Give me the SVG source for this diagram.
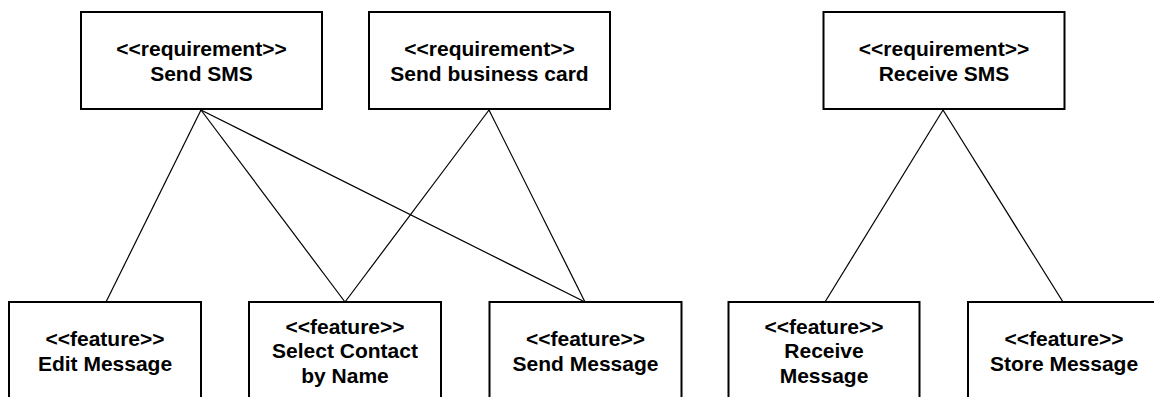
<svg xmlns="http://www.w3.org/2000/svg" width="1154" height="397" viewBox="0 0 1154 397">
  <style>
    .box { fill: #ffffff; stroke: #000000; stroke-width: 2; }
    .lbl { font-family: "Liberation Sans", Arial, sans-serif; font-size: 21px; font-weight: bold; fill: #000000; text-anchor: middle; }
    .link { stroke: #000000; stroke-width: 1.2; fill: none; }
  </style>
  <rect width="1154" height="397" fill="#ffffff"/>

  <!-- trace links between requirements and features -->
  <g id="connectors">
    <line class="link" x1="201" y1="110" x2="106" y2="302"/>
    <line class="link" x1="201" y1="110" x2="345" y2="302"/>
    <line class="link" x1="201" y1="110" x2="585" y2="302"/>
    <line class="link" x1="489" y1="110" x2="345" y2="302"/>
    <line class="link" x1="489" y1="110" x2="585" y2="302"/>
    <line class="link" x1="943" y1="110" x2="825" y2="302"/>
    <line class="link" x1="943" y1="110" x2="1063" y2="302"/>
  </g>

  <!-- requirements -->
  <g id="req-send-sms">
    <rect class="box" x="81" y="12" width="241" height="97"/>
    <text class="lbl" x="201.5" y="55.5">&lt;&lt;requirement&gt;&gt;</text>
    <text class="lbl" x="201.5" y="80.5">Send SMS</text>
  </g>
  <g id="req-send-business-card">
    <rect class="box" x="369" y="12" width="241" height="97"/>
    <text class="lbl" x="489.5" y="55.5">&lt;&lt;requirement&gt;&gt;</text>
    <text class="lbl" x="489.5" y="80.5">Send business card</text>
  </g>
  <g id="req-receive-sms">
    <rect class="box" x="823.5" y="12" width="241" height="97"/>
    <text class="lbl" x="944" y="55.5">&lt;&lt;requirement&gt;&gt;</text>
    <text class="lbl" x="944" y="80.5">Receive SMS</text>
  </g>

  <!-- features -->
  <g id="feat-edit-message">
    <rect class="box" x="9" y="302" width="192" height="100"/>
    <text class="lbl" x="105" y="346">&lt;&lt;feature&gt;&gt;</text>
    <text class="lbl" x="105" y="371">Edit Message</text>
  </g>
  <g id="feat-select-contact">
    <rect class="box" x="249" y="302" width="192" height="100"/>
    <text class="lbl" x="345" y="333.5">&lt;&lt;feature&gt;&gt;</text>
    <text class="lbl" x="345" y="358">Select Contact</text>
    <text class="lbl" x="345" y="382.5">by Name</text>
  </g>
  <g id="feat-send-message">
    <rect class="box" x="489.5" y="302" width="192" height="100"/>
    <text class="lbl" x="585.5" y="346">&lt;&lt;feature&gt;&gt;</text>
    <text class="lbl" x="585.5" y="371">Send Message</text>
  </g>
  <g id="feat-receive-message">
    <rect class="box" x="728.5" y="302" width="191" height="100"/>
    <text class="lbl" x="824" y="333.5">&lt;&lt;feature&gt;&gt;</text>
    <text class="lbl" x="824" y="358">Receive</text>
    <text class="lbl" x="824" y="382.5">Message</text>
  </g>
  <g id="feat-store-message">
    <rect class="box" x="968" y="302" width="192" height="100"/>
    <text class="lbl" x="1064" y="346">&lt;&lt;feature&gt;&gt;</text>
    <text class="lbl" x="1064" y="371">Store Message</text>
  </g>
</svg>
